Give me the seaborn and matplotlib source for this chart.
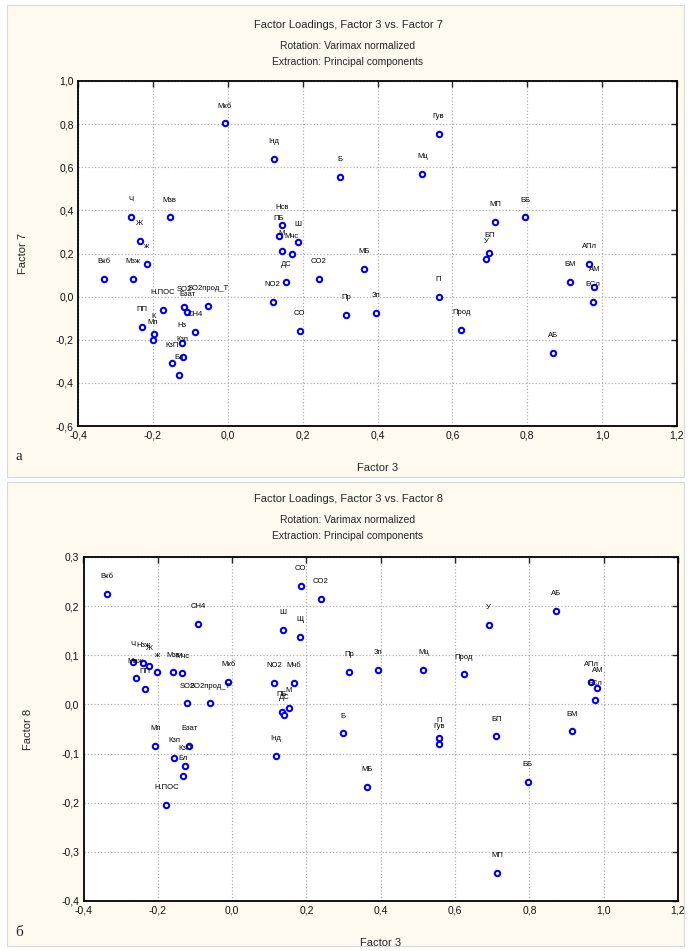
import numpy as np
import pandas as pd
import matplotlib
matplotlib.use("Agg")
import matplotlib.pyplot as plt
import seaborn as sns
from matplotlib.patches import Rectangle
from matplotlib.ticker import FuncFormatter, MultipleLocator

# panel a: Factor 3 vs Factor 7
labels_7 = ["Мкб", "Iнд", "Б", "Гув", "Мц", "Ч", "Мзв", "Ж", "ж", "Вкб", "Мзж",
            "Нсв", "ПБ", "Ш", "М", "Мчс", "ДС", "NO2", "CO2", "CO", "Пр", "Зп",
            "МБ", "П", "МП", "ББ", "БП", "У", "АПл", "БМ", "АМ", "БСл", "Прод",
            "АБ", "Н.ПОС", "SO2", "Бзат", "SO2прод_Т", "СН4", "ПП", "К", "Мп",
            "Нз", "Кзп", "КзП", "Бл"]
factor3_7 = [-0.008, 0.123, 0.299, 0.563, 0.520, -0.259, -0.155, -0.235, -0.216, -0.331, -0.253,
             0.144, 0.136, 0.187, 0.144, 0.171, 0.155, 0.120, 0.243, 0.192, 0.317, 0.395,
             0.365, 0.563, 0.715, 0.795, 0.699, 0.691, 0.965, 0.915, 0.979, 0.976, 0.624,
             0.869, -0.173, -0.117, -0.109, -0.053, -0.088, -0.229, -0.197, -0.200,
             -0.123, -0.120, -0.149, -0.131]
factor7 = [0.803, 0.640, 0.557, 0.756, 0.571, 0.371, 0.367, 0.260, 0.153, 0.084, 0.084,
           0.334, 0.283, 0.255, 0.213, 0.200, 0.070, -0.023, 0.084, -0.158, -0.084, -0.074,
           0.130, 0.000, 0.348, 0.367, 0.204, 0.176, 0.153, 0.070, 0.046, -0.023, -0.153,
           -0.260, -0.060, -0.046, -0.070, -0.042, -0.162, -0.139, -0.172, -0.200,
           -0.213, -0.278, -0.306, -0.362]

# panel б: Factor 3 vs Factor 8
labels_8 = ["Вкб", "СН4", "Ч", "Нзж", "Ж", "ж", "Маж", "ПП", "Мзв", "Мчс", "Мкб",
            "SO2", "SO2прод_Т", "Мп", "Бзат", "Кзп", "КзП", "Бл", "Н.ПОС", "CO", "CO2",
            "Ш", "Щ", "Пр", "Зп", "Мц", "NO2", "Мчб", "ПБ", "ДС", "М", "Б", "Iнд",
            "МБ", "П", "Гув", "АБ", "У", "Прод", "АПл", "АМ", "БСл", "БМ", "БП",
            "ББ", "МП"]
factor3_8 = [-0.336, -0.091, -0.266, -0.239, -0.223, -0.201, -0.260, -0.234, -0.158, -0.134, -0.011,
             -0.121, -0.059, -0.207, -0.115, -0.156, -0.126, -0.132, -0.177, 0.185, 0.239,
             0.137, 0.183, 0.314, 0.392, 0.515, 0.113, 0.166, 0.134, 0.140, 0.153, 0.298, 0.118,
             0.362, 0.558, 0.558, 0.872, 0.690, 0.623, 0.966, 0.983, 0.977, 0.915, 0.711,
             0.795, 0.714]
factor8 = [0.225, 0.164, 0.087, 0.085, 0.079, 0.065, 0.053, 0.032, 0.065, 0.063, 0.045,
           0.002, 0.002, -0.085, -0.085, -0.108, -0.126, -0.146, -0.205, 0.241, 0.215,
           0.152, 0.138, 0.067, 0.071, 0.071, 0.043, 0.043, -0.016, -0.022, -0.008, -0.059, -0.105,
           -0.168, -0.069, -0.081, 0.191, 0.162, 0.061, 0.045, 0.034, 0.008, -0.055, -0.065,
           -0.158, -0.343]

sns.set_style("white")
plt.rcParams['font.family'] = ['Liberation Sans', 'DejaVu Sans']

W, H = 691, 951
cream = "#fffaf0"
fig = plt.figure(figsize=(W / 100, H / 100), dpi=100)
fig.patch.set_facecolor("white")


def box(x0, y0, x1, y1):
    return [x0 / W, 1 - y1 / H, (x1 - x0) / W, (y1 - y0) / H]


for y0, y1 in [(5, 477), (482, 946)]:
    fig.patches.append(Rectangle((7 / W, 1 - y1 / H), 677 / W, (y1 - y0) / H,
                                 transform=fig.transFigure, facecolor=cream,
                                 edgecolor="#d8d8d8", lw=0.8, zorder=-5))

comma = FuncFormatter(lambda v, _: f"{v:.1f}".replace(".", ","))


def panel(rect, labels, xs, ys, yname, ylim, ystep, title, ty, letter, ly, xlab_y):
    ax = fig.add_axes(box(*rect))
    ax.set_facecolor("white")
    df = pd.DataFrame({"Factor 3": xs, yname: ys, "var": labels})
    sns.scatterplot(data=df, x="Factor 3", y=yname, ax=ax, marker="o", s=15,
                    facecolor="white", edgecolor="#0000ee", linewidth=1.5, zorder=3)
    for _, r in df.iterrows():
        ax.annotate(r["var"], (r["Factor 3"], r[yname]), xytext=(0, 12.5),
                    textcoords="offset points", ha="center", va="center",
                    fontsize=5.5, color="black", zorder=4)
    ax.set_xlim(-0.4, 1.2)
    ax.set_ylim(*ylim)
    ax.xaxis.set_major_locator(MultipleLocator(0.2))
    ax.yaxis.set_major_locator(MultipleLocator(ystep))
    ax.xaxis.set_major_formatter(comma)
    ax.yaxis.set_major_formatter(comma)
    ax.grid(True, ls=":", color="#b0b0b0", lw=0.9)
    ax.tick_params(direction="in", top=True, right=True, length=4, width=1,
                   labelsize=7.5, pad=3, labelcolor="#111111")
    for s in ax.spines.values():
        s.set_color("black")
        s.set_linewidth(1.3)
    ax.set_xlabel("Factor 3", fontsize=8)
    ax.set_ylabel(yname, fontsize=8)
    ax.xaxis.set_label_coords(0.5, -(xlab_y - rect[3]) / (rect[3] - rect[1]))
    ax.yaxis.set_label_coords(-50 / (rect[2] - rect[0]), 0.5)
    fig.text(348 / W, 1 - ty / H, title, ha="center", va="center", fontsize=8)
    fig.text(348 / W, 1 - (ty + 21) / H, "Rotation: Varimax normalized",
             ha="center", va="center", fontsize=7.5)
    fig.text(348 / W, 1 - (ty + 37) / H, "Extraction: Principal components",
             ha="center", va="center", fontsize=7.5)
    fig.text(15 / W, 1 - ly / H, letter, ha="left", va="center", fontsize=11,
             family="Liberation Serif")
    return ax


panel((78, 81, 677, 426), labels_7, factor3_7, factor7, "Factor 7", (-0.6, 1.0), 0.2,
      "Factor Loadings, Factor 3 vs. Factor 7", 25, "а", 456, 463)
panel((83.5, 557, 678, 901), labels_8, factor3_8, factor8, "Factor 8", (-0.4, 0.3), 0.1,
      "Factor Loadings, Factor 3 vs. Factor 8", 499, "б", 932, 938)

fig.savefig("out.png", dpi=100, facecolor=fig.get_facecolor())
